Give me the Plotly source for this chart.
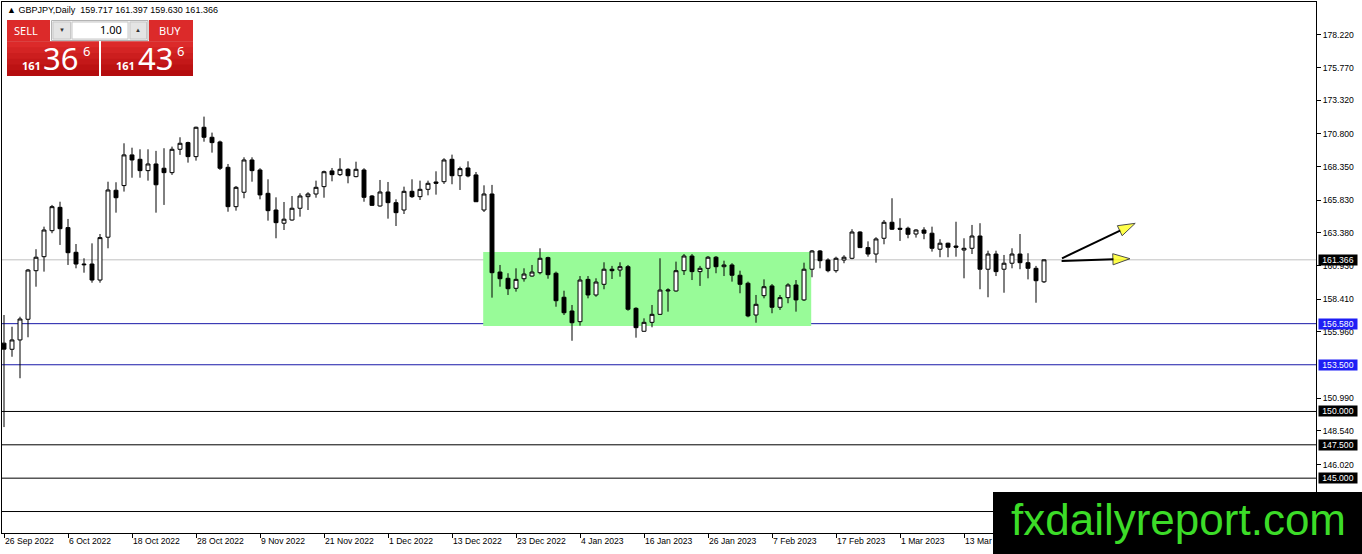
import plotly.graph_objects as go

# GBPJPY daily bars, one per weekday from 26 Sep 2022
opens = [
    155.12, 154.66, 155.36, 156.91, 160.55, 161.60, 163.55, 165.30, 163.78, 161.93,
    161.05, 161.05, 159.85, 163.06, 166.58, 166.93, 169.23, 168.90, 168.05, 168.55,
    168.23, 167.90, 169.65, 170.15, 169.10, 171.30, 170.55, 170.20, 168.30, 165.35,
    166.43, 168.85, 168.10, 166.35, 165.10, 164.11, 164.35, 165.23, 166.10, 166.30,
    166.85, 168.03, 167.75, 168.15, 167.60, 168.10, 166.15, 165.40, 166.45, 165.65,
    165.10, 166.50, 166.10, 166.65, 167.20, 167.22, 168.90, 167.67, 168.25, 167.73,
    165.10, 166.30, 160.45, 159.98, 159.23, 159.95, 160.15, 160.40, 161.53, 160.36,
    158.56, 157.53, 156.73, 159.90, 158.73, 159.53, 160.66, 160.60, 160.85, 157.73,
    156.01, 156.68, 157.28, 159.03, 159.03, 160.55, 161.65, 160.48, 160.73, 161.56,
    160.85, 160.98, 160.21, 159.61, 157.23, 158.68, 159.41, 157.81, 158.53, 159.48,
    158.36, 160.66, 162.03, 161.35, 160.55, 161.35, 161.48, 163.45, 162.28, 161.80,
    162.98, 164.18, 163.73, 163.73, 163.30, 163.60, 163.36, 162.16, 162.61, 162.40,
    162.10, 162.23, 163.15, 160.66, 161.80, 160.66, 161.11, 161.80, 161.15, 160.73,
    159.717,
]
highs = [
    157.23, 156.35, 157.10, 160.68, 162.16, 163.85, 165.48, 165.72, 164.43, 162.55,
    161.48, 162.60, 163.30, 167.22, 167.18, 170.10, 169.77, 169.65, 169.65, 169.53,
    169.73, 169.85, 170.55, 170.22, 171.35, 172.10, 170.90, 170.30, 168.55, 166.90,
    169.05, 169.05, 168.23, 167.40, 166.05, 165.70, 166.15, 166.35, 166.43, 167.30,
    168.05, 168.25, 168.98, 168.23, 168.72, 168.23, 166.22, 167.35, 167.20, 165.90,
    166.85, 167.40, 167.30, 167.30, 168.00, 168.98, 169.25, 168.35, 168.75, 167.95,
    166.95, 166.98, 160.98, 160.36, 160.73, 160.73, 160.98, 162.23, 161.60, 160.48,
    159.05, 157.98, 160.15, 160.15, 159.98, 161.18, 160.91, 161.18, 160.98, 157.81,
    156.98, 157.98, 161.48, 159.23, 161.23, 161.80, 161.80, 160.91, 161.65, 161.65,
    161.30, 161.11, 160.55, 159.73, 158.73, 159.90, 159.55, 158.73, 159.61, 159.85,
    161.15, 162.10, 162.10, 161.48, 161.60, 161.71, 163.66, 163.50, 162.75, 163.06,
    164.35, 165.98, 164.48, 163.85, 163.66, 163.81, 163.85, 162.91, 162.65, 164.22,
    162.98, 163.98, 164.11, 162.05, 162.05, 161.73, 162.23, 163.30, 161.86, 160.91,
    161.397,
]
lows = [
    148.83, 154.10, 152.49, 155.56, 159.35, 160.48, 163.36, 162.48, 160.98, 160.73,
    160.40, 159.65, 159.65, 162.23, 164.90, 166.48, 167.52, 167.52, 167.30, 164.90,
    165.48, 167.73, 169.23, 168.65, 168.80, 170.22, 169.40, 168.10, 164.97, 165.05,
    165.98, 167.22, 165.90, 164.30, 162.98, 163.60, 164.30, 164.60, 165.10, 166.02,
    166.02, 167.25, 167.65, 167.10, 167.55, 165.72, 165.40, 165.35, 164.45, 163.90,
    164.80, 166.00, 165.85, 166.20, 166.25, 167.05, 167.03, 166.60, 167.55, 165.70,
    164.95, 158.53, 159.35, 158.73, 158.98, 159.73, 160.10, 160.28, 159.95, 157.85,
    157.23, 155.30, 156.43, 158.48, 158.60, 159.16, 159.93, 160.10, 157.55, 155.53,
    155.98, 156.31, 157.23, 157.48, 158.98, 160.23, 159.85, 159.41, 159.98, 160.36,
    160.15, 159.73, 158.86, 157.06, 156.65, 158.48, 157.36, 157.61, 158.11, 157.48,
    158.28, 160.06, 160.73, 160.43, 160.40, 161.11, 161.41, 162.25, 161.60, 161.15,
    162.53, 163.60, 162.78, 162.98, 163.03, 162.91, 161.98, 161.56, 161.56, 161.60,
    159.98, 161.80, 159.16, 158.56, 160.15, 158.90, 160.73, 160.66, 159.90, 158.15,
    159.630,
]
closes = [
    154.67, 155.36, 156.93, 160.60, 161.56, 163.60, 165.35, 163.70, 161.90, 161.05,
    161.00, 159.85, 163.03, 166.60, 166.02, 169.23, 168.85, 168.05, 168.55, 166.99,
    167.90, 169.65, 170.10, 169.10, 171.30, 170.55, 170.15, 168.23, 165.35, 166.80,
    168.85, 168.05, 166.23, 165.05, 164.15, 164.41, 165.23, 166.15, 166.30, 166.80,
    167.97, 167.75, 168.15, 167.67, 168.15, 166.05, 165.45, 166.45, 165.65, 164.90,
    166.50, 166.10, 166.65, 167.10, 167.10, 168.85, 167.67, 168.20, 167.65, 165.72,
    166.30, 160.40, 159.95, 159.20, 159.90, 160.30, 160.45, 161.48, 160.25, 158.30,
    157.40, 156.65, 159.85, 158.73, 159.70, 160.66, 160.55, 160.85, 157.66, 156.28,
    156.68, 157.28, 159.10, 159.10, 160.55, 161.65, 160.48, 160.73, 161.56, 160.85,
    160.98, 160.21, 159.53, 157.16, 158.03, 159.35, 157.81, 158.53, 159.48, 158.36,
    160.66, 162.03, 161.30, 160.55, 161.48, 161.56, 163.45, 162.28, 161.80, 162.93,
    164.18, 163.66, 163.66, 163.28, 163.60, 163.36, 162.23, 162.61, 162.31, 162.31,
    162.23, 163.15, 160.66, 161.80, 160.48, 161.11, 161.80, 161.15, 160.73, 159.80,
    161.366,
]

# one date label every 8 bars
date_labels = [
    "26 Sep 2022", "6 Oct 2022", "18 Oct 2022", "28 Oct 2022", "9 Nov 2022",
    "21 Nov 2022", "1 Dec 2022", "13 Dec 2022", "23 Dec 2022", "4 Jan 2023",
    "16 Jan 2023", "26 Jan 2023", "7 Feb 2023", "17 Feb 2023", "1 Mar 2023",
    "13 Mar 2023",
]
label_step = 8

price_ticks = [178.22, 175.77, 173.32, 170.80, 168.35, 165.83, 163.38,
               160.93, 158.41, 155.96, 150.99, 148.54, 146.02]

bid = 161.366
blue_levels = [156.58, 153.50]
black_levels = [150.00, 147.50, 145.00, 142.50]

# consolidation box (bar index / price) and the two projection arrows
box_bars = (59.9, 100.9)
box_prices = (156.40, 161.95)
arrows = [
    ([132.25, 141.4], [161.48, 164.10]),
    ([132.2, 140.75], [161.28, 161.45]),
]

W, H = 1362, 554
PLOT_L, PLOT_T, PLOT_R, PLOT_B = 2, 2, 1316, 533
X_RANGE = [-0.25, 164.0]
Y_RANGE = [140.89, 180.69]

AXIS_FONT = dict(family="Liberation Sans, Arial, sans-serif", size=8.6, color="black")
RED_TOP = "#dc2a2a"


def px_rect(x0, y0, x1, y1, color, border=None):
    # rectangle in screen pixels, anchored to the plot's top-left corner
    return dict(
        type="rect", xref="paper", yref="paper", xsizemode="pixel", ysizemode="pixel",
        xanchor=0, yanchor=1, x0=x0 - PLOT_L, x1=x1 - PLOT_L, y0=PLOT_T - y0, y1=PLOT_T - y1,
        fillcolor=color, line=dict(width=1 if border else 0, color=border or color),
        layer="above",
    )


def px_text(x, y, text, size, color="white", anchor="center", bold=False,
            family="Noto Sans, sans-serif"):
    return dict(
        xref="paper", yref="paper", x=0, y=1, xshift=x - PLOT_L, yshift=PLOT_T - y,
        xanchor=anchor, yanchor="middle", text=text, showarrow=False,
        font=dict(family=family, size=size, color=color, weight="bold" if bold else "normal"),
    )


def gradient_box(x0, y0, x1, y1, bands=6):
    # poor man's vertical gradient for the trade panel; bands overlap to avoid seams
    out = [px_rect(x0, y0, x1, y1, "rgb(200,28,30)")]
    step = (y1 - y0) / bands
    for i in range(bands):
        t = i / (bands - 1)
        c = tuple(int(a + (b - a) * t) for a, b in zip((220, 42, 42), (180, 12, 14)))
        bottom = min(y1, y0 + (i + 1) * step + 1)
        out.append(px_rect(x0, y0 + i * step, x1, bottom, "rgb(%d,%d,%d)" % c))
    return out


bars = list(range(len(opens)))

fig = go.Figure()
fig.add_trace(go.Candlestick(
    x=bars, open=opens, high=highs, low=lows, close=closes,
    increasing=dict(line=dict(color="black", width=1), fillcolor="white"),
    decreasing=dict(line=dict(color="black", width=1), fillcolor="black"),
    hoverinfo="skip", showlegend=False,
))

for ax, ay in arrows:
    fig.add_trace(go.Scatter(
        x=ax, y=ay, mode="lines+markers", hoverinfo="skip", showlegend=False,
        line=dict(color="black", width=2),
        marker=dict(symbol="arrow", size=[0, 18], angleref="previous",
                    color="#ffff00", line=dict(color="black", width=1)),
    ))

shapes = [
    dict(type="rect", xref="x", yref="y", x0=box_bars[0], x1=box_bars[1],
         y0=box_prices[0], y1=box_prices[1], fillcolor="#98fb98",
         line=dict(width=0), layer="below"),
    dict(type="line", xref="paper", yref="y", x0=0, x1=1, y0=bid, y1=bid,
         line=dict(color="#c0c0c0", width=1), layer="below"),
]
for lv in blue_levels:
    shapes.append(dict(type="line", xref="paper", yref="y", x0=0, x1=1, y0=lv, y1=lv,
                       line=dict(color="#1818a8", width=1), layer="below"))
for lv in black_levels:
    shapes.append(dict(type="line", xref="paper", yref="y", x0=0, x1=1, y0=lv, y1=lv,
                       line=dict(color="black", width=1), layer="below"))

# one-click trading panel
shapes += [px_rect(7, 20, 50, 41.5, RED_TOP), px_rect(149, 20, 193, 41.5, RED_TOP)]
shapes += gradient_box(7, 41.5, 99, 76) + gradient_box(101, 41.5, 193, 76)
shapes += [
    px_rect(51.5, 20.5, 148, 40.5, "#f0f0f0", border="#b4b4b4"),
    px_rect(53, 22, 70.5, 39, "#e4e4e4", border="#c8c8c8"),
    px_rect(72, 22, 128, 39, "white", border="#c8c8c8"),
    px_rect(130, 22, 146.5, 39, "#e4e4e4", border="#c8c8c8"),
]
# watermark
shapes.append(px_rect(993, 492, 1362, 554, "black"))

annotations = [
    px_text(5, 10, "\u25b2 GBPJPY,Daily  159.717 161.397 159.630 161.366", 9,
            color="black", anchor="left", family="Liberation Sans, Arial, sans-serif"),
    px_text(26, 30.5, "SELL", 11),
    px_text(170, 30.5, "BUY", 11),
    px_text(61.5, 30, "\u25bc", 6, color="#333333"),
    px_text(138, 30, "\u25b2", 6, color="#333333"),
    px_text(124, 29.5, "1.00", 11, color="black", anchor="right"),
    px_text(31.5, 65, "161", 11, bold=True),
    px_text(60.5, 57.5, "36", 31),
    px_text(86, 51, "6", 13),
    px_text(125, 65, "161", 11, bold=True),
    px_text(155.5, 57.5, "43", 31),
    px_text(180.5, 51, "6", 13),
    px_text(1178, 519, "fxdailyreport.com", 44, color="#3cdc28",
            family="Liberation Sans, Arial, sans-serif"),
]

# price tags on the right axis
tags = [(bid, "black")] + [(lv, "#1e1ef5") for lv in blue_levels] \
    + [(lv, "black") for lv in black_levels[:3]]
for lv, bg in tags:
    annotations.append(dict(
        xref="paper", yref="y", x=1, y=lv, xanchor="left", yanchor="middle", xshift=2,
        text="%.3f" % lv, showarrow=False, bgcolor=bg, borderpad=0, width=38, height=10,
        font=dict(family=AXIS_FONT["family"], size=8.6, color="white"),
    ))

fig.update_layout(
    width=W, height=H,
    margin=dict(l=PLOT_L, r=W - PLOT_R, t=PLOT_T, b=H - PLOT_B, pad=0),
    paper_bgcolor="white", plot_bgcolor="white",
    showlegend=False, shapes=shapes, annotations=annotations,
    hovermode=False,
)
fig.update_xaxes(
    range=X_RANGE, rangeslider=dict(visible=False), showgrid=False, zeroline=False,
    tickvals=[i * label_step for i in range(len(date_labels))], ticktext=date_labels,
    ticks="outside", ticklen=4, tickcolor="black", ticklabelposition="outside right",
    showline=True, mirror=True, linecolor="black", linewidth=1, tickfont=AXIS_FONT,
)
fig.update_yaxes(
    range=Y_RANGE, side="right", showgrid=False, zeroline=False,
    tickvals=price_ticks, tickformat=".3f", ticks="outside", ticklen=4, tickcolor="black",
    showline=True, mirror=True, linecolor="black", linewidth=1, tickfont=AXIS_FONT,
)

fig.write_html("out.html", config={"displayModeBar": False},
               post_script="document.body.style.margin='0';")
